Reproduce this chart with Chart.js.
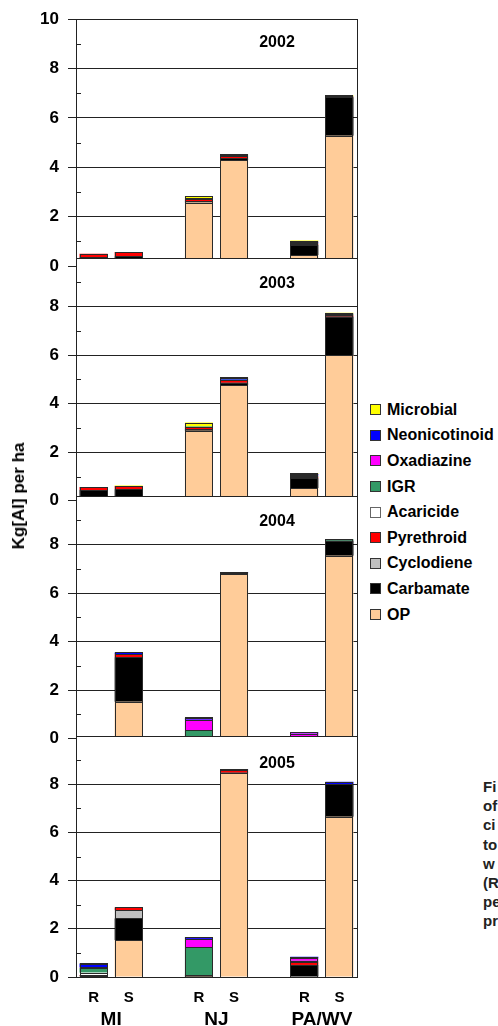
<!DOCTYPE html>
<html>
<head>
<meta charset="utf-8">
<script src="https://cdn.jsdelivr.net/npm/chart.js@4/dist/chart.umd.min.js"></script>
<style>
  html, body { margin: 0; padding: 0; background: #fff; }
  body {
    width: 498px; height: 1026px; position: relative; overflow: hidden;
    font-family: "Liberation Sans", Arial, sans-serif; font-weight: bold; color: #000;
  }
  canvas { position: absolute; left: 0; }
  .year { position: absolute; width: 60px; margin-left: -30px; text-align: center; font-size: 16px; line-height: 16px; }
  #ytitle {
    position: absolute; left: 19px; top: 496px; white-space: nowrap; font-size: 17px;
    transform: translate(-50%, -50%) rotate(-90deg);
  }
  #legend { position: absolute; left: 370px; top: 397px; }
  #legend .item { height: 25.6px; display: flex; align-items: center; font-size: 16px; white-space: nowrap; }
  #legend .box { width: 9px; height: 9px; border: 1px solid #333; margin-right: 6px; }
  #caption { position: absolute; left: 483px; top: 777px; font-size: 15px; line-height: 19.2px; color: #222; white-space: nowrap; }
</style>
</head>
<body>
<canvas id="p2002" width="361" height="290" style="top:0px"></canvas>
<canvas id="p2003" width="361" height="290" style="top:230px"></canvas>
<canvas id="p2004" width="361" height="290" style="top:470px"></canvas>
<canvas id="p2005" width="361" height="316" style="top:710px"></canvas>

<div class="year" style="left:277px; top:34px">2002</div>
<div class="year" style="left:277px; top:275px">2003</div>
<div class="year" style="left:277px; top:513px">2004</div>
<div class="year" style="left:277px; top:755px">2005</div>

<div id="ytitle">Kg[AI] per ha</div>
<div id="legend"></div>
<div id="caption">Fi<br>of<br>ci<br>to<br>w<br>(R<br>pe<br>pr</div>

<script>
// categories
const years = ['2002', '2003', '2004', '2005'];
const xLabels = ['R', 'S', '', 'R', 'S', '', 'R', 'S'];
const groupLabels = ['MI', 'NJ', 'PA/WV'];
const yTicks = [0, 1, 2, 3, 4, 5, 6, 7, 8, 9, 10];

// insecticide classes, stacked bottom to top
const classes = ['OP', 'Carbamate', 'Cyclodiene', 'Pyrethroid', 'Acaricide', 'IGR', 'Oxadiazine', 'Neonicotinoid', 'Microbial'];
const classColors = ['#FFCC99', '#000000', '#C0C0C0', '#FF0000', '#FFFFFF', '#339966', '#FF00FF', '#0000FF', '#FFFF00'];

// one row per year: MI R, MI S, NJ R, NJ S, PA/WV R, PA/WV S
const op = [
    [0.05, 0.05, 2.57, 4.28, 0.45, 5.28],
    [0.02, 0.08, 2.89, 4.77, 0.53, 5.99],
    [0.02, 1.52, 0.02, 6.78, 0.01, 7.54],
    [0.03, 1.53, 0.01, 8.45, 0.02, 6.65]
];
const carbamate = [
    [0.30, 0.35, 0.05, 0.08, 0.40, 1.56],
    [0.42, 0.40, 0.07, 0.09, 0.40, 1.60],
    [0.02, 1.83, 0.06, 0.02, 0.08, 0.62],
    [0.03, 0.90, 0.07, 0.03, 0.48, 1.34]
];
const cyclodiene = [
    [0, 0, 0, 0, 0, 0],
    [0, 0, 0, 0, 0, 0],
    [0, 0, 0, 0, 0, 0],
    [0, 0.34, 0, 0, 0, 0]
];
const pyrethroid = [
    [0.15, 0.17, 0.08, 0.08, 0.03, 0.02],
    [0.13, 0.13, 0.08, 0.10, 0.05, 0.05],
    [0.04, 0.14, 0, 0, 0.01, 0],
    [0.02, 0.12, 0, 0.10, 0.12, 0]
];
const acaricide = [
    [0, 0, 0, 0, 0, 0],
    [0, 0, 0, 0, 0, 0],
    [0, 0, 0, 0, 0, 0],
    [0.10, 0, 0, 0, 0, 0]
];
const igr = [
    [0, 0, 0.04, 0.05, 0.04, 0.02],
    [0, 0, 0.02, 0.03, 0.05, 0.04],
    [0, 0, 0.26, 0.02, 0.01, 0.06],
    [0.20, 0, 1.15, 0, 0.05, 0]
];
const oxadiazine = [
    [0, 0, 0, 0, 0.02, 0],
    [0, 0, 0, 0, 0.02, 0],
    [0, 0, 0.44, 0, 0.10, 0],
    [0.02, 0, 0.35, 0, 0.10, 0]
];
const neonicotinoid = [
    [0, 0, 0, 0, 0.04, 0],
    [0, 0, 0, 0.05, 0.05, 0.02],
    [0, 0.06, 0.08, 0.05, 0.05, 0],
    [0.16, 0, 0.07, 0.04, 0.07, 0.11]
];
const microbial = [
    [0, 0, 0.10, 0.05, 0.05, 0.04],
    [0, 0.02, 0.16, 0.04, 0.05, 0.05],
    [0, 0, 0.02, 0, 0, 0],
    [0.02, 0, 0, 0, 0, 0]
];
const classValues = [op, carbamate, cyclodiene, pyrethroid, acaricide, igr, oxadiazine, neonicotinoid, microbial];

// where the plot box of each panel sits on the page (top = 10, bottom = 0)
const panelTop = [19, 258, 496, 736];
const panelZero = [266, 498, 737, 977];

Chart.defaults.font.family = '"Liberation Sans", Arial, sans-serif';
Chart.defaults.font.weight = 'bold';
Chart.defaults.color = '#000';

// put the six site values into the 8 slots (empty slot between states)
function toSlots(row) {
    const v = row.map(x => x > 0 ? x : null);
    return [v[0], v[1], null, v[2], v[3], null, v[4], v[5]];
}

// white plot background, crisp segment outlines, box frame and small inside ticks
const panelFrame = {
    id: 'panelFrame',
    beforeDraw(chart) {
        const a = chart.chartArea;
        const ctx = chart.ctx;
        ctx.save();
        ctx.fillStyle = '#fff';
        ctx.fillRect(a.left, a.top, a.right - a.left, a.bottom - a.top);
        ctx.restore();
    },
    afterDatasetsDraw(chart) {
        const ctx = chart.ctx;
        ctx.save();
        ctx.strokeStyle = '#2a2a2a';
        ctx.lineWidth = 1;
        chart.data.datasets.forEach((ds, i) => {
            chart.getDatasetMeta(i).data.forEach((bar, j) => {
                if (ds.data[j] == null) return;
                const p = bar.getProps(['x', 'y', 'base', 'width'], true);
                const left = Math.round(p.x - p.width / 2);
                const right = Math.round(p.x + p.width / 2);
                const top = Math.round(Math.min(p.y, p.base));
                const bottom = Math.round(Math.max(p.y, p.base));
                ctx.strokeRect(left + 0.5, top + 0.5, right - left - 1, Math.max(0, bottom - top));
            });
        });
        ctx.restore();
    },
    afterDraw(chart) {
        const a = chart.chartArea;
        const ctx = chart.ctx;
        const y = chart.scales.y;
        ctx.save();
        ctx.strokeStyle = '#222';
        ctx.lineWidth = 1;
        ctx.beginPath();
        yTicks.filter(v => v % 2 === 1).forEach(v => {
            const py = Math.round(y.getPixelForValue(v)) + 0.5;
            ctx.moveTo(a.left, py);
            ctx.lineTo(a.left + 5, py);
        });
        ctx.stroke();
        ctx.strokeRect(Math.round(a.left) + 0.5, Math.round(a.top) + 0.5, Math.round(a.right - a.left), Math.round(a.bottom - a.top));
        ctx.restore();
    }
};

function makePanel(yearIdx) {
    const first = yearIdx === 0;
    const last = yearIdx === years.length - 1;
    const showLabel = v => v % 2 === 0 && (first || v < 10);
    const canvas = document.getElementById('p' + years[yearIdx]);

    const datasets = classes.map((name, k) => ({
        label: name,
        data: toSlots(classValues[k][yearIdx]),
        backgroundColor: classColors[k],
        borderWidth: 0,
        barPercentage: 0.8,
        categoryPercentage: 1.0
    }));

    const scales = {
        y: {
            stacked: true,
            min: 0,
            max: 10,
            afterFit(s) { s.width = 76; },
            afterBuildTicks(s) { s.ticks = yTicks.map(v => ({ value: v })); },
            border: { display: false },
            grid: {
                color: c => (c.tick && c.tick.value % 2 === 0 && c.tick.value > 0 && c.tick.value < 10) ? '#222' : 'rgba(0,0,0,0)',
                tickColor: c => (c.tick && showLabel(c.tick.value)) ? '#222' : 'rgba(0,0,0,0)',
                tickLength: 8,
                lineWidth: 1
            },
            ticks: {
                autoSkip: false,
                padding: 9,
                color: '#000',
                font: { size: 17, weight: 'bold' },
                callback: v => showLabel(v) ? v : ''
            }
        }
    };

    if (last) {
        scales.x = {
            stacked: true,
            grid: { display: false, drawTicks: false },
            border: { display: false },
            afterFit(s) { s.height = 30; },
            ticks: { padding: 12, autoSkip: false, maxRotation: 0, color: '#000', font: { size: 15, weight: 'bold' } }
        };
        scales.x2 = {
            type: 'linear',
            position: 'bottom',
            min: -0.5,
            max: xLabels.length - 0.5,
            offset: false,
            grid: { display: false, drawTicks: false, offset: false },
            border: { display: false },
            afterFit(s) { s.height = 19; },
            afterBuildTicks(s) {
                // centre of each R/S pair
                s.ticks = groupLabels.map((g, i) => ({ value: i * 3 + 0.5 }));
            },
            ticks: {
                padding: 1, autoSkip: false, maxRotation: 0, color: '#000',
                font: { size: 19, weight: 'bold' },
                callback: (v, i) => groupLabels[i]
            }
        };
    } else {
        scales.x = { stacked: true, display: false };
    }

    const padding = { top: 10, bottom: last ? 0 : 10, left: 0, right: 4 };
    const chart = new Chart(canvas, {
        type: 'bar',
        data: { labels: xLabels, datasets: datasets },
        options: {
            responsive: false,
            maintainAspectRatio: false,
            animation: false,
            devicePixelRatio: 1,
            layout: { padding: padding },
            plugins: { legend: { display: false }, tooltip: { enabled: false } },
            scales: scales
        },
        plugins: [panelFrame]
    });

    // nudge the padding so the plot box lands where the reference has it
    const offset = parseFloat(canvas.style.top);
    const wantTop = panelTop[yearIdx] - offset;
    const wantBottom = panelZero[yearIdx] - offset;
    for (let i = 0; i < 3; i++) {
        const a = chart.chartArea;
        padding.top = Math.max(0, padding.top + (wantTop - a.top));
        padding.bottom = Math.max(0, padding.bottom + (a.bottom - wantBottom));
        chart.options.layout.padding = padding;
        chart.update();
    }
}

years.forEach((y, i) => makePanel(i));

// legend, top item is the top of the stack
const legend = document.getElementById('legend');
classes.slice().reverse().forEach(name => {
    const k = classes.indexOf(name);
    const item = document.createElement('div');
    item.className = 'item';
    const box = document.createElement('span');
    box.className = 'box';
    box.style.background = classColors[k];
    if (name === 'Acaricide') box.style.borderColor = '#666';
    item.appendChild(box);
    item.appendChild(document.createTextNode(name));
    legend.appendChild(item);
});
</script>
</body>
</html>
